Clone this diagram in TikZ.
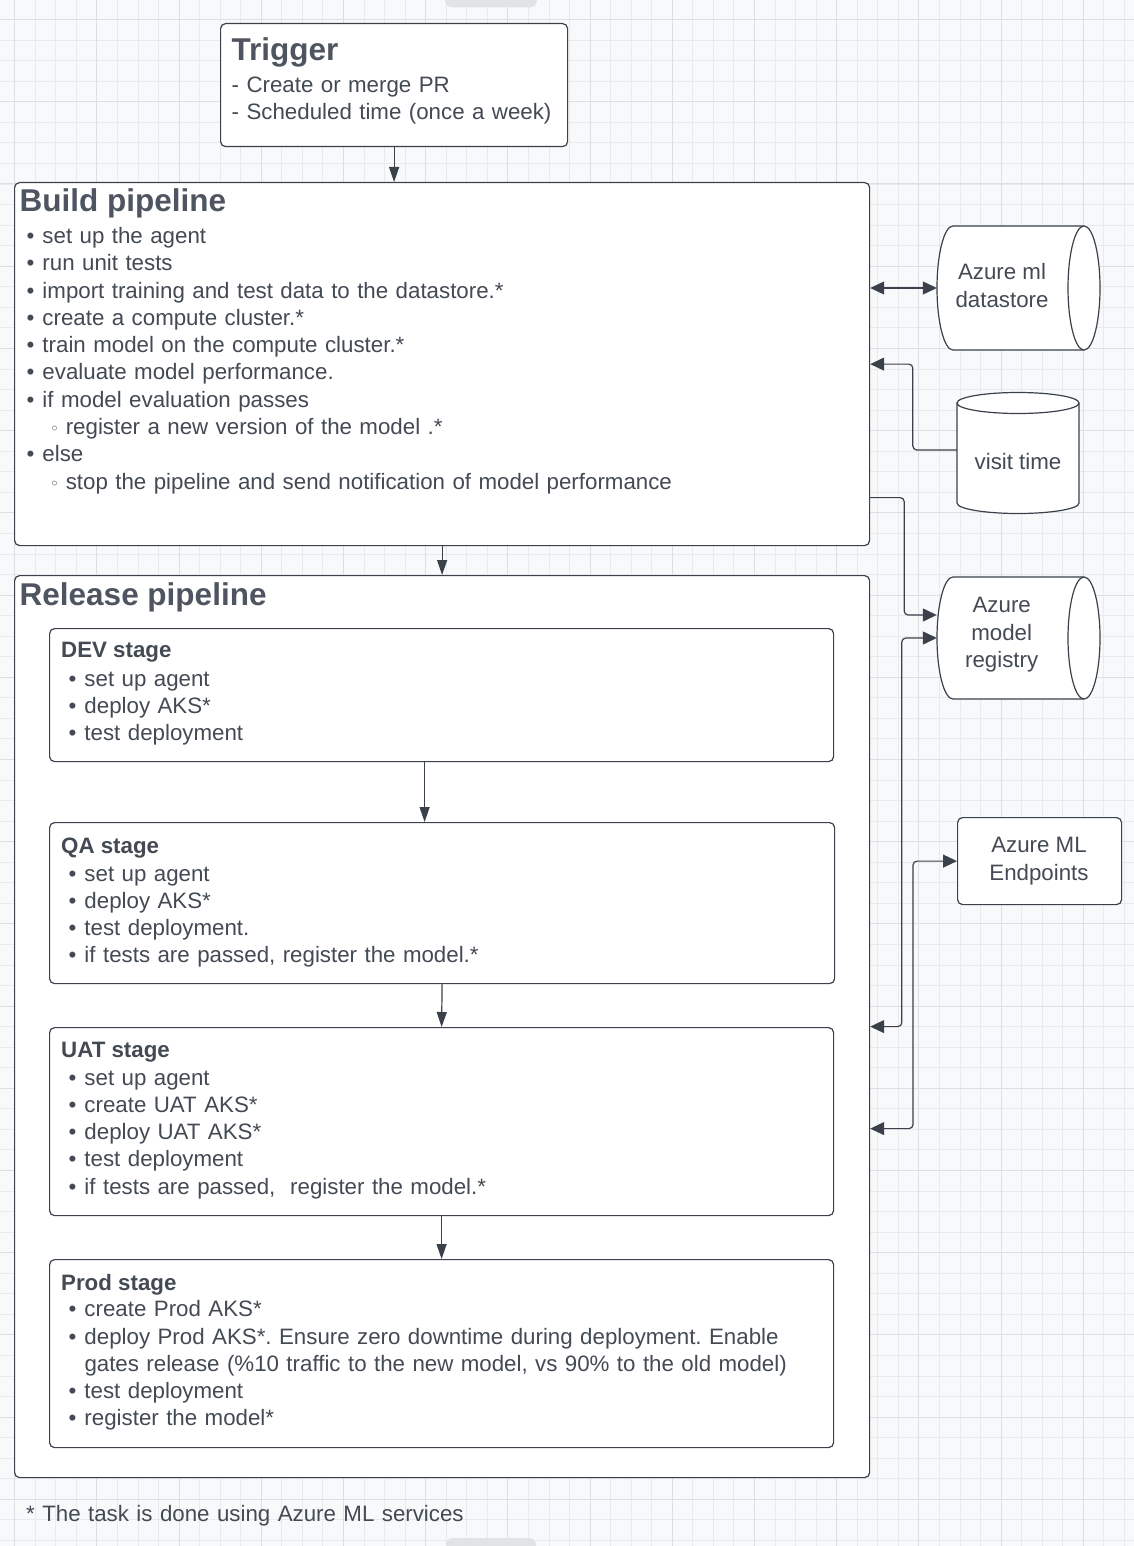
\documentclass[tikz,border=0pt]{standalone}
\usepackage{fontspec}
\setmainfont{Liberation Sans}
\newfontfamily\circfont{DejaVu Sans}
\usetikzlibrary{arrows.meta, positioning}
\usepackage{xcolor}
\frenchspacing

\definecolor{ink}{HTML}{3A414A}
\definecolor{textink}{HTML}{434A54}
\definecolor{headink}{HTML}{4E5560}
\definecolor{paper}{HTML}{F8F9FA}
\definecolor{gridminor}{HTML}{E8EAED}
\definecolor{gridmajor}{HTML}{DCDFE3}
\definecolor{tabgray}{HTML}{E2E3E5}

\newcommand{\bul}{\makebox[16pt][l]{\textbullet}}
\newcommand{\subbul}{\hspace*{23.5pt}\makebox[15.8pt][l]{{\circfont\fontsize{16}{16}\selectfont ◦}}}
\newcommand{\hang}{\hspace*{16pt}}

\begin{document}
\begin{tikzpicture}[x=1pt, y=-1pt,
		box/.style={draw=ink, line width=1.2pt, rounded corners=5pt, fill=white, inner sep=0pt, anchor=north west},
		storeframe/.style={inner sep=0pt},
		store/.style={draw=ink, line width=1.2pt, fill=white},
		headtxt/.style={anchor=base west, inner sep=0pt, text=headink, font=\fontsize{31.5}{36}\selectfont\bfseries},
		stagetxt/.style={anchor=base west, inner sep=0pt, text=textink, font=\fontsize{22.3}{27.3}\selectfont\bfseries},
		listtxt/.style={anchor=base west, inner sep=0pt, text=textink, text width=820pt, align=left, font=\fontsize{22.3}{27.3}\selectfont},
		storetxt/.style={inner sep=0pt, text=textink, align=center, font=\fontsize{22.3}{27.3}\selectfont},
		flow/.style={draw=ink, line width=1.2pt, >={Triangle[length=15pt, width=10pt]}, ->},
		side/.style={draw=ink, line width=1.2pt, rounded corners=4pt, >={Triangle[length=14pt, width=13pt]}}]
	\useasboundingbox (0,0) rectangle (1134,1546);
	% Background grid
	\fill[paper] (0,0) rectangle (1134,1546);
	\foreach \k in {0,...,54} {\draw[gridminor, line width=0.8pt] ({14.6+20.55*\k},0) -- ++(0,1546);}
	\foreach \k in {0,...,74} {\draw[gridminor, line width=0.8pt] (0,{19.6+20.55*\k}) -- ++(1134,0);}
	\foreach \k in {0,4,...,52} {\draw[gridmajor, line width=1pt] ({14.6+20.55*\k},0) -- ++(0,1546);}
	\foreach \k in {0,4,...,72} {\draw[gridmajor, line width=1pt] (0,{19.6+20.55*\k}) -- ++(1134,0);}
	\fill[tabgray, rounded corners=7pt] (445,-12) rectangle (537,7.3);
	\fill[tabgray, rounded corners=7pt] (446,1538) rectangle (536,1560);
	% Trigger
	\node[box, minimum width=347, minimum height=123] (trigger) at (220,23) {};
	\node[headtxt] (triggerhead) at (231.5,61) {Trigger};
	\node[listtxt] (triggerlist) at (231.5,92.3) {- Create or merge PR\\- Scheduled time (once a week)};
	% Build pipeline
	\node[box, minimum width=855, minimum height=363] (build) at (14,182) {};
	\node[headtxt] (buildhead) at (19.5,212) {Build pipeline};
	\node[listtxt] (buildlist) at (26.3,243.5) {\bul set up the agent\\
		\bul run unit tests\\
		\bul import training and test data to the datastore.*\\
		\bul create a compute cluster.*\\
		\bul train model on the compute cluster.*\\
		\bul evaluate model performance.\\
		\bul if model evaluation passes\\
		\subbul register a new version of the model .*\\
		\bul else\\
		\subbul stop the pipeline and send notification of model performance};
	% Release pipeline
	\node[box, minimum width=855, minimum height=902] (release) at (14,575) {};
	\node[headtxt] (releasehead) at (19.5,605) {Release pipeline};
	% stages
	\node[box, minimum width=784, minimum height=133] (dev) at (49,628) {};
	\node[stagetxt] (devhead) at (61,657.7) {DEV stage};
	\node[listtxt] (devlist) at (68.3,686) {\bul set up agent\\\bul deploy AKS*\\\bul test deployment};
	\node[box, minimum width=785, minimum height=161] (qa) at (49,822) {};
	\node[stagetxt] (qahead) at (61,853.3) {QA stage};
	\node[listtxt] (qalist) at (68.3,881) {\bul set up agent\\\bul deploy AKS*\\\bul test deployment.\\\bul if tests are passed, register the model.*};
	\node[box, minimum width=784, minimum height=188] (uat) at (49,1027) {};
	\node[stagetxt] (uathead) at (61,1057.7) {UAT stage};
	\node[listtxt] (uatlist) at (68.3,1085) {\bul set up agent\\\bul create UAT AKS*\\\bul deploy UAT AKS*\\\bul test deployment\\\bul if tests are passed,\ \ register the model.*};
	\node[box, minimum width=784, minimum height=188] (prod) at (49,1259) {};
	\node[stagetxt] (prodhead) at (61,1290) {Prod stage};
	\node[listtxt] (prodlist) at (68.3,1316.7) {\bul create Prod AKS*\\
		\bul deploy Prod AKS*. Ensure zero downtime during deployment. Enable\\
		\hang gates release (\%10 traffic to the new model, vs 90\% to the old model)\\
		\bul test deployment\\
		\bul register the model*};
	% footnote
	\node[listtxt] (footnote) at (26,1521.7) {* The task is done using Azure ML services};
	% Azure ml datastore
	\node[storeframe, minimum width=163, minimum height=124] (datastore) at (1018.5,288) {};
	\draw[store] (1084,226) -- (953,226) arc[start angle=270, end angle=90, x radius=16, y radius=62] -- (1084,350);
	\draw[store] (1084,288) ellipse[x radius=16, y radius=62];
	\node[storetxt] (datastoretxt) at (1002,285.6) {Azure ml\\datastore};
	% visit time
	\node[storeframe, minimum width=122, minimum height=121] (visittime) at (1018,450) {};
	\draw[store] (957,403) -- (957,503) arc[start angle=180, end angle=0, x radius=61, y radius=10.5] -- (1079,403);
	\draw[store] (1018,403) ellipse[x radius=61, y radius=10.5];
	\node[storetxt] (visittimetxt) at (1018,461.9) {visit time};
	% Azure model registry
	\node[storeframe, minimum width=163, minimum height=122] (registry) at (1018.5,638) {};
	\draw[store] (1084,577) -- (953,577) arc[start angle=270, end angle=90, x radius=16, y radius=61] -- (1084,699);
	\draw[store] (1084,638) ellipse[x radius=16, y radius=61];
	\node[storetxt] (registrytxt) at (1001.7,634.9) {Azure\\model\\registry};
	% Azure ML Endpoints
	\node[box, minimum width=164, minimum height=87] (endpoints) at (957,817) {};
	\node[storetxt] (endpointstxt) at (1039,861.2) {Azure ML\\Endpoints};
	% main flow
	\draw[flow] (trigger.south) -- (trigger.south |- build.north);
	\draw[flow] (build.south) -- (release.north);
	\draw[flow] ([xshift=-17pt]dev.south) -- ([xshift=-17pt]dev.south |- qa.north);
	\draw[flow] (qa.south) -- (uat.north);
	\draw[flow] (uat.south) -- (prod.north);
	% side links
	\draw[side, <->] (build.east |- datastore.west) -- (datastore.west);
	\draw[side, ->] (visittime.west) -- ++(-44,0) |- (build.east);
	\draw[side, ->] ([yshift=-133.5pt]build.east) -- ++(34,0) |- ([yshift=23pt]registry.west);
	\draw[side, <->] (registry.west) -- ++(-35,0) |- (release.east);
	\draw[side, <->] (endpoints.west) -- ++(-44,0) |- ([yshift=-102pt]release.east);
\end{tikzpicture}
\end{document}
